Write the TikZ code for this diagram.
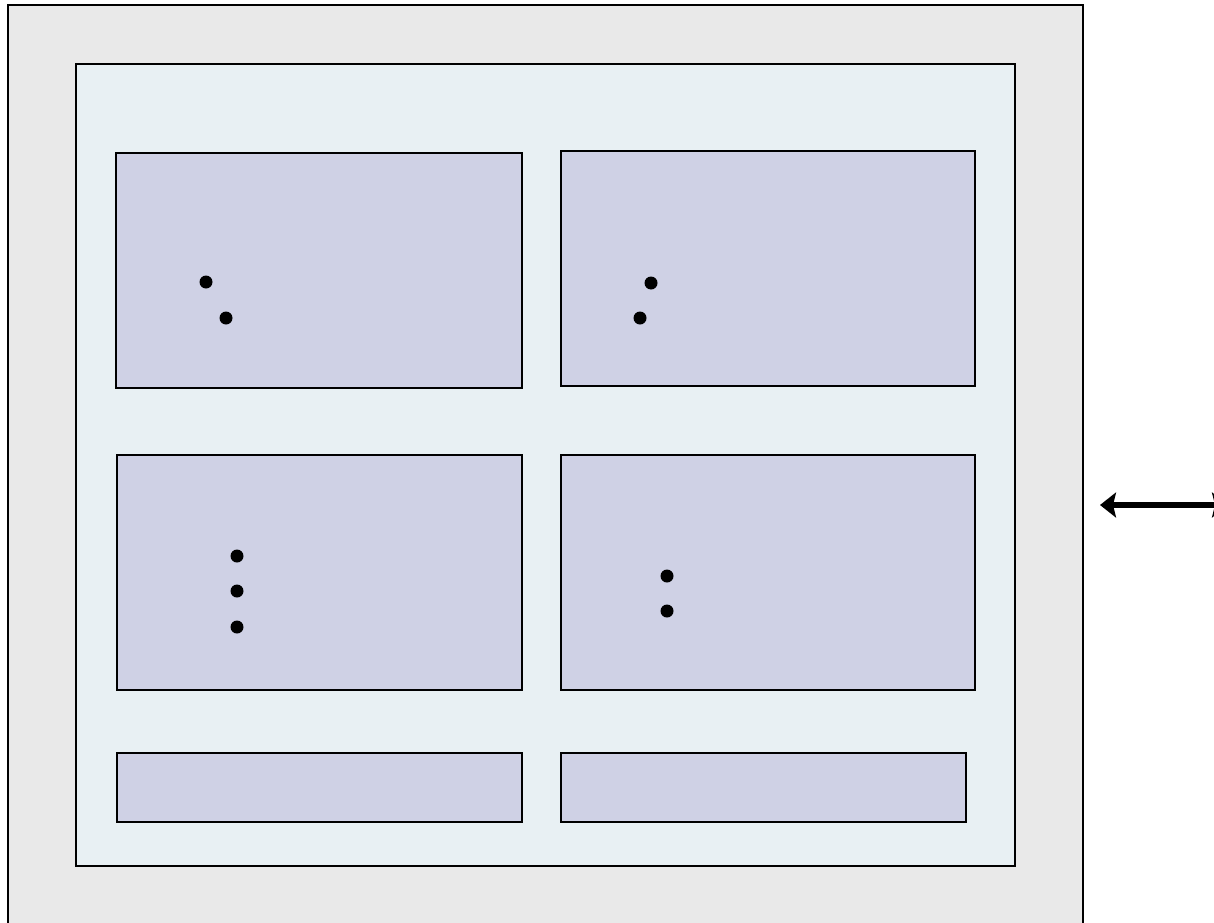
\documentclass[tikz,border=0pt]{standalone}
\usepackage{xcolor}
\usepackage{tikz}
\usetikzlibrary{arrows.meta,positioning}
\definecolor{frameGrey}{RGB}{233,233,233}
\definecolor{boardBlue}{RGB}{232,240,243}
\definecolor{panelBlue}{RGB}{207,209,229}
\begin{document}
\begin{tikzpicture}[
  x=0.02cm, y=-0.02cm,
  box/.style={draw, line width=1.1pt, inner sep=0pt, outer sep=0pt, anchor=north west},
  panel/.style={box, fill=panelBlue, minimum height=4.7cm},
  strip/.style={box, fill=panelBlue, minimum height=1.38cm, minimum width=8.1cm},
  pip/.style={fill=black},
  link/.style={line width=3.8pt, {Stealth[length=0.32cm,width=0.5cm,inset=0.06cm]}-{Stealth[length=0.32cm,width=0.5cm,inset=0.06cm]}}
]
\useasboundingbox (0,0) rectangle (1214,923);
\clip (0,0) rectangle (1214,923);
% outer frame and board
\node[box, fill=frameGrey, minimum width=21.5cm, minimum height=19cm] (frame) at (8,5) {};
\node[box, fill=boardBlue, minimum width=18.78cm, minimum height=16.04cm] (board) at (76,64) {};
% panels
\node[panel, minimum width=8.12cm] (tl) at (116,153) {};
\node[panel, minimum width=8.28cm] (tr) at (561,151) {};
\node[panel, minimum width=8.1cm] (ml) at (117,455) {};
\node[panel, minimum width=8.28cm] (mr) at (561,455) {};
\node[strip] (bl) at (117,753) {};
\node[strip] (br) at (561,753) {};
% dots
\foreach \px/\py in {206/282,226/318,651/283,640/318,237/556,237/591,237/627,667/576,667/611}
  \fill[pip] (\px,\py) circle[radius=1.3mm];
% link arrow
\coordinate (linkL) at (1100,505);
\coordinate (linkR) at (1228,505);
\draw[link] (linkL) -- (linkR);
\end{tikzpicture}
\end{document}
